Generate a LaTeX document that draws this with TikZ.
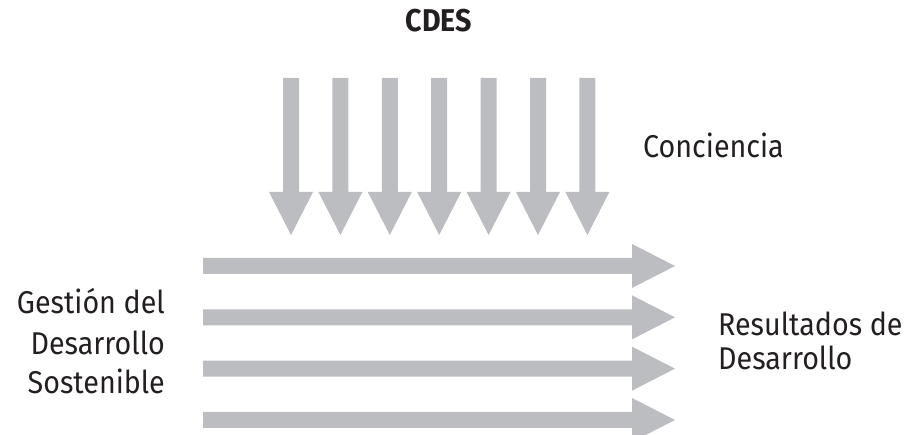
\documentclass[tikz,border=0pt]{standalone}
\usepackage{fontspec}
\setmainfont{Fira Sans}[FakeStretch=0.91]
\definecolor{arrgray}{HTML}{BCBDC1}
\definecolor{txt}{HTML}{231F20}
\begin{document}
\begin{tikzpicture}[x=1pt,y=-1pt,
  lbl/.style={inner sep=0pt,text=txt,font=\fontsize{31.5}{35}\selectfont},
  arrfill/.style={fill=arrgray,draw=none}]
\useasboundingbox (0,0) rectangle (907,435);
% down arrows
\foreach \k in {0,...,6}{
  \pgfmathsetmacro{\cx}{291+49.4*\k}
  \fill[arrgray] (\cx-8,78) -- (\cx+8,78) -- (\cx+8,192) -- (\cx+22,192) -- (\cx,235) -- (\cx-22,192) -- (\cx-8,192) -- cycle;
}
% horizontal arrows
\foreach \k in {0,...,3}{
  \pgfmathsetmacro{\cy}{266+51.33*\k}
  \fill[arrgray] (203,\cy-8) -- (632,\cy-8) -- (632,\cy-22) -- (675,\cy) -- (632,\cy+22) -- (632,\cy+8) -- (203,\cy+8) -- cycle;
}
\node[lbl,anchor=base,font=\fontsize{31.5}{35}\selectfont\bfseries] (cdes) at (439,32) {CDES};
\node[lbl,anchor=base west] (conc) at (643,158) {Conciencia};
\node[lbl,anchor=base west] (res1) at (718,335) {Resultados de};
\node[lbl,anchor=base west] (res2) at (718,370) {Desarrollo};
\node[lbl,anchor=base east] (g1) at (165,314) {Gestión del};
\node[lbl,anchor=base east] (g2) at (165,354) {Desarrollo};
\node[lbl,anchor=base east] (g3) at (165,393) {Sostenible};
\end{tikzpicture}
\end{document}
